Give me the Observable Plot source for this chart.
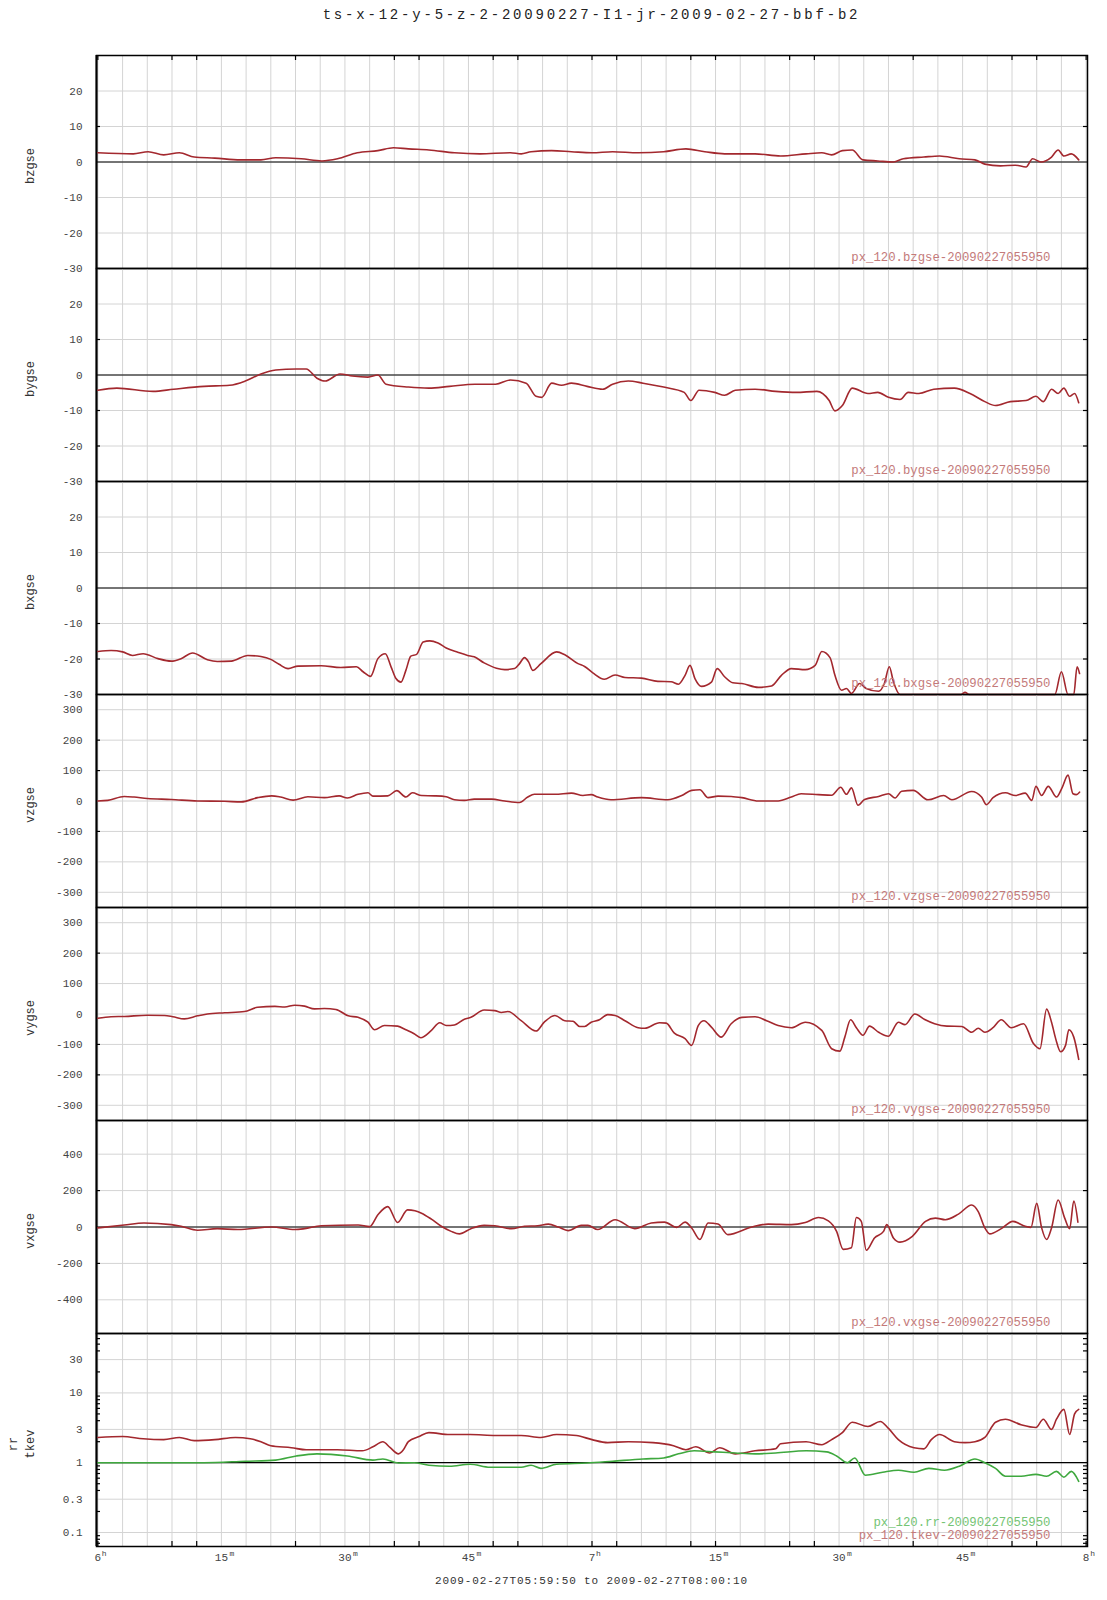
<!DOCTYPE html>
<html><head><meta charset="utf-8">
<script src="https://cdn.jsdelivr.net/npm/d3@7"></script>
<script src="https://cdn.jsdelivr.net/npm/@observablehq/plot@0.6"></script>
<style>
body{margin:0;background:#fff;}
#wrap{position:relative;width:1107px;height:1600px;font-family:"Liberation Mono",monospace;overflow:hidden;}
#title{position:absolute;top:7px;left:96px;width:991px;text-align:center;font-size:14px;letter-spacing:2.8px;color:#222;white-space:nowrap;}
#sub{position:absolute;top:1575px;left:96px;width:991px;text-align:center;font-size:11px;letter-spacing:0.85px;color:#333;white-space:nowrap;}
.panel{position:absolute;left:0;}
</style></head><body>
<div id="wrap">
<div id="title">ts-x-12-y-5-z-2-20090227-I1-jr-2009-02-27-bbf-b2</div>
<div id="sub">2009-02-27T05:59:50 to 2009-02-27T08:00:10</div>
</div>
<script>
// ---- data: [minutes after 06:00, value] ----
const bzgse = [[0,2.6],[4.3,2.3],[6.1,2.9],[8.0,2.0],[9.9,2.6],[11.7,1.4],[14.2,1.1],[17.3,0.6],[19.8,0.6],[21.6,1.2],[24.7,0.9],[27.2,0.3],[29.1,0.9],[31.5,2.6],[34.0,3.2],[35.9,4.0],[37.7,3.7],[40.2,3.4],[43.3,2.6],[46.4,2.3],[50.1,2.6],[51.4,2.3],[52.6,2.9],[55.1,3.2],[57.5,2.9],[60.0,2.6],[62.5,2.9],[65.6,2.6],[68.7,2.9],[71.4,3.7],[73.7,2.9],[76.1,2.3],[79.8,2.3],[82.9,1.7],[86.0,2.3],[87.9,2.6],[89.1,2.0],[90.4,3.2],[91.6,3.4],[92.9,0.6],[94.7,0.3],[96.6,0.0],[97.8,0.9],[100.3,1.4],[102.2,1.7],[104.6,0.9],[106.5,0.6],[107.7,-0.6],[109.6,-1.1],[111.4,-0.9],[112.7,-1.4],[113.5,0.9],[114.5,0.0],[115.8,1.4],[116.6,3.4],[117.3,1.7],[118.2,2.3],[119.1,0.6]];

const bygse = [[0,-4.3],[2.3,-3.7],[6.7,-4.6],[9.2,-4.0],[12.9,-3.2],[16.0,-2.9],[17.9,-1.7],[19.8,0.3],[21.6,1.4],[24.1,1.7],[25.3,1.7],[26.6,-0.9],[27.6,-1.7],[29.4,0.3],[30.9,-0.3],[32.8,-0.6],[34.0,0],[35.0,-2.6],[37.7,-3.4],[40.2,-3.7],[42.7,-3.2],[45.8,-2.6],[48.3,-2.6],[50.1,-1.4],[52.0,-2.3],[53.2,-6.0],[53.9,-6.3],[55.1,-2.3],[56.3,-2.9],[57.5,-2.3],[59.4,-3.2],[61.3,-4.0],[62.5,-2.6],[64.4,-1.7],[66.2,-2.3],[68.7,-3.4],[71.2,-4.9],[72.0,-7.2],[73.0,-4.3],[74.9,-4.9],[76.1,-5.7],[77.4,-4.3],[79.8,-4.0],[82.3,-4.6],[84.8,-4.9],[87.3,-4.6],[88.8,-7.2],[89.5,-10.1],[90.4,-8.6],[91.6,-3.7],[93.5,-5.2],[94.7,-4.9],[96.0,-6.3],[97.4,-6.9],[98.4,-4.9],[99.7,-5.2],[101.5,-4.0],[104.0,-3.7],[105.9,-5.2],[107.7,-7.5],[109.0,-8.6],[110.8,-7.5],[112.7,-7.2],[113.9,-6.0],[114.8,-7.5],[115.8,-4.0],[116.6,-5.2],[117.3,-3.7],[118.0,-6.0],[118.6,-5.2],[119.1,-7.8]];

const bxgse = [[0,-17.9],[1.6,-17.6],[3,-18.0],[4.2,-19.0],[5.5,-18.5],[7.3,-19.9],[8.9,-20.6],[10.1,-19.9],[11.5,-18.3],[13.3,-20.2],[14.5,-20.7],[16.2,-20.6],[18.2,-19.0],[19.8,-19.3],[21.0,-20.1],[22.0,-21.5],[23.1,-22.7],[24.3,-22.0],[27.1,-21.9],[29.5,-22.4],[31.4,-22.2],[32.2,-23.6],[33.1,-24.9],[34.0,-19.9],[34.9,-18.5],[35.6,-22.2],[36.2,-25.5],[36.8,-26.5],[37.4,-23.2],[38.0,-19.2],[38.7,-18.7],[39.5,-15.2],[40.3,-14.9],[41.3,-15.5],[42.3,-16.9],[43.7,-18.1],[44.9,-19.0],[45.7,-19.4],[46.9,-21.1],[48.4,-22.6],[49.4,-23.0],[50.6,-22.7],[51.2,-21.3],[51.8,-19.6],[52.3,-20.8],[52.8,-23.2],[53.8,-21.3],[55.7,-18.0],[56.7,-18.8],[58.3,-21.3],[59.1,-22.1],[60.1,-23.9],[61.5,-25.7],[62.8,-24.5],[64.0,-25.2],[66.0,-25.4],[68.0,-26.3],[69.6,-26.4],[70.5,-27.1],[71.3,-24.6],[71.9,-21.8],[72.5,-25.5],[73.3,-27.7],[74.5,-26.5],[75.2,-22.7],[76.1,-25.0],[77.1,-26.7],[78.2,-26.9],[80.2,-28.0],[81.8,-27.6],[83.0,-24.6],[84.2,-22.7],[85.9,-23.0],[87.1,-21.8],[87.9,-17.9],[88.9,-19.6],[89.5,-24.6],[90.3,-28.8],[90.9,-28.3],[91.5,-29.7],[92.5,-26.9],[93.3,-28.3],[94.8,-29.1],[95.5,-26.9],[96.1,-22.2],[96.6,-26.4],[97.4,-30],[100,-30],[104.8,-30],[105.3,-29.4],[105.8,-30],[110,-30],[116.2,-30],[117.0,-23.6],[117.8,-30],[118.5,-30],[118.9,-22.2],[119.2,-24.1]];

const vzgse = [[0,0],[1.2,2],[3.2,15],[4.4,13],[6.0,8],[8.9,5],[12.1,0],[15.4,-1],[17.4,-3],[19.4,11],[21.1,17],[22.2,13],[23.7,3],[25.5,14],[27.5,11],[29.3,17],[30.3,10],[31.6,22],[32.8,27],[33.4,16],[35.2,17],[36.3,34],[37.4,13],[38.2,27],[39.3,18],[40.9,17],[42.3,14],[43.3,4],[44.5,2],[45.7,6],[47.8,6],[49.4,0],[51.2,-5],[52.2,13],[53.0,22],[55.5,22],[57.5,26],[58.9,18],[59.9,21],[60.7,13],[62.3,4],[66.0,11],[69.2,4],[70.9,18],[72.1,35],[73.1,37],[74.1,11],[75.3,16],[76.9,15],[78.2,11],[80.2,0],[82.6,0],[84.2,13],[85.4,24],[87.5,21],[89.1,19],[90.2,45],[90.9,22],[91.5,43],[92.3,-14],[93.1,5],[94.8,15],[96.0,24],[96.8,10],[97.6,32],[99.0,35],[100.8,4],[102.7,18],[103.7,4],[106.1,31],[107.3,13],[107.9,-12],[108.7,11],[110.2,27],[111.4,18],[112.6,26],[113.4,2],[113.9,48],[114.6,18],[115.4,48],[116.4,13],[117.1,45],[117.8,85],[118.4,24],[118.8,21],[119.2,29]];

const vygse = [[0,-14],[1.6,-9],[3.2,-8],[6.0,-4],[8.1,-5],[9.1,-9],[10.5,-16],[12.1,-6],[13.3,0],[15.4,4],[17.8,8],[19.4,22],[21.5,25],[22.7,23],[23.9,29],[25.1,26],[26.3,17],[27.5,18],[28.9,15],[30.4,-6],[31.6,-11],[32.8,-27],[33.6,-52],[34.8,-38],[36.4,-40],[37.4,-52],[38.4,-65],[39.2,-78],[40.5,-54],[41.5,-29],[42.3,-38],[43.3,-36],[44.5,-17],[45.3,-11],[46.9,13],[48.2,11],[49.0,5],[49.8,8],[51.4,-22],[53.2,-56],[54.2,-27],[55.5,-5],[56.7,-22],[57.7,-24],[58.5,-41],[59.1,-41],[59.9,-27],[60.9,-19],[61.9,-2],[62.8,-5],[64.0,-22],[65.6,-45],[66.4,-47],[68.2,-29],[69.0,-30],[70.0,-63],[71.3,-81],[72.1,-103],[72.9,-38],[73.6,-22],[74.5,-43],[75.7,-76],[76.9,-32],[78.2,-11],[79.8,-9],[81.2,-22],[82.6,-38],[84.2,-45],[85.9,-27],[87.9,-54],[89.1,-114],[90.1,-122],[90.7,-76],[91.4,-19],[92.1,-45],[92.9,-70],[93.7,-40],[94.8,-60],[96.0,-73],[97.2,-27],[98.0,-35],[99.2,0],[100.4,-18],[101.6,-32],[103.1,-40],[104.9,-41],[106.1,-60],[106.9,-47],[107.7,-60],[108.7,-45],[109.7,-19],[110.9,-45],[112.4,-32],[113.6,-97],[114.4,-114],[115.2,16],[115.8,-27],[116.3,-81],[116.9,-124],[117.5,-103],[117.9,-52],[118.5,-76],[119.1,-149]];

const vxgse = [[0,-5],[3.2,11],[5.6,22],[8.9,13],[10.1,4],[12.1,-18],[14.5,-9],[17.0,-14],[21.1,0],[23.9,-14],[25.1,-9],[27.1,7],[31.6,11],[33.0,2],[34.0,67],[35.2,112],[36.4,25],[37.6,94],[38.5,89],[39.3,76],[40.5,43],[41.7,4],[42.9,-24],[43.9,-38],[45.3,-9],[46.9,9],[48.2,7],[50.2,-9],[51.8,4],[53.4,7],[54.7,16],[55.9,0],[57.1,-20],[58.7,9],[59.5,9],[60.7,-14],[62.8,40],[65.2,-9],[67.2,22],[68.8,27],[70.3,-2],[71.3,27],[72.1,-5],[73.1,-69],[74.1,22],[75.3,16],[76.5,-42],[79.4,0],[81.4,16],[84.2,13],[85.9,25],[87.5,52],[88.7,34],[89.7,-24],[90.5,-123],[91.5,-114],[92.1,52],[92.7,31],[93.3,-128],[94.3,-60],[95.4,-24],[95.8,13],[96.6,-60],[97.4,-83],[98.9,-51],[100.5,31],[101.7,49],[102.9,40],[104.5,71],[106.1,121],[106.9,85],[107.7,-5],[108.3,-38],[109.7,-9],[111.1,31],[112.6,4],[113.3,-2],[114.0,130],[114.6,-5],[115.2,-69],[115.8,-5],[116.6,148],[117.4,49],[118.0,-9],[118.5,143],[119.0,27]];

const tkev = [[0,2.3],[3.0,2.37],[5.5,2.2],[8.0,2.14],[9.9,2.3],[11.7,2.07],[14.2,2.14],[16.7,2.3],[18.5,2.2],[19.8,2.0],[21.0,1.75],[23.5,1.64],[25.3,1.53],[29.1,1.53],[32.1,1.48],[33.4,1.69],[34.6,2.0],[35.5,1.64],[36.5,1.34],[37.1,1.53],[37.7,2.0],[39.0,2.37],[40.2,2.7],[42.7,2.53],[45.2,2.53],[48.3,2.45],[51.4,2.45],[53.8,2.3],[55.7,2.53],[58.1,2.45],[60.0,2.14],[61.9,1.94],[64.4,2.0],[67.4,1.94],[69.9,1.75],[71.4,1.53],[72.6,1.69],[74.3,1.38],[75.5,1.64],[77.4,1.34],[79.8,1.48],[82.3,1.58],[82.9,1.87],[86.0,2.0],[87.9,1.81],[89.1,2.14],[90.4,2.7],[91.6,3.8],[93.5,3.3],[95.0,3.9],[96.0,3.1],[97.2,2.14],[99.1,1.64],[100.3,1.58],[101.2,2.14],[102.2,2.53],[104.0,2.0],[105.3,1.94],[106.5,2.0],[107.7,2.3],[109.0,3.8],[110.2,4.2],[112.1,3.5],[113.9,3.2],[114.8,4.2],[115.8,3.0],[116.4,4.2],[117.3,5.8],[118.0,2.53],[118.6,5.0],[119.1,5.8]];

const rr = [[0,1.0],[12.9,1.0],[17.9,1.05],[21.6,1.09],[24.1,1.25],[26.6,1.34],[30.3,1.25],[33.4,1.09],[34.6,1.13],[36.5,0.99],[38.4,1.0],[40.2,0.92],[42.7,0.89],[45.2,0.95],[47.6,0.86],[51.4,0.86],[52.6,0.92],[53.8,0.83],[55.7,0.95],[59.4,0.99],[62.5,1.05],[66.2,1.13],[68.7,1.17],[70.5,1.34],[72.4,1.48],[74.9,1.43],[77.4,1.38],[79.8,1.34],[82.3,1.38],[86.0,1.48],[88.5,1.43],[89.7,1.25],[91.0,1.0],[91.9,1.17],[93.2,0.66],[95.3,0.73],[97.2,0.78],[99.1,0.73],[100.9,0.83],[102.8,0.78],[104.6,0.89],[106.5,1.13],[107.7,1.0],[109.0,0.83],[110.2,0.64],[112.1,0.64],[113.9,0.68],[115.2,0.64],[116.4,0.75],[117.3,0.62],[118.2,0.75],[119.1,0.54]];

// ---- axes / ticks ----
const bTicks = [20, 10, 0, -10, -20, -30];
const vTicks = [300, 200, 100, 0, -100, -200, -300];
const vxTicks = [400, 200, 0, -200, -400];
const logTicks = [30, 10, 3, 1, 0.3, 0.1];
const logMinor = [0.07,0.08,0.09,0.2,0.4,0.5,0.6,0.7,0.8,0.9,2,4,5,6,7,8,9,20,40,50,60];
const gridMin = d3.range(0, 121, 3);
const frameTickMin = [0,9,12,24,36,39,48,51,60,63,72,75,84,87,99,111,114,120];
const xLabelMin = [0,15,30,45,60,75,90,105,120];
const xLabelNum = ["6","15","30","45","7","15","30","45","8"];
const xLabelSup = ["h","m","m","m","h","m","m","m","h"];

const RED = "#a3282e", GREEN = "#3ea83e", NOTE_RED = "#c47a7a", NOTE_GREEN = "#74c474";
const W = 1107, ML = 96, MR = 20, PH = 213, TOP = 55, PW = W - ML - MR;

const panels = [
  {labels:["bzgse"], series:[{data:bzgse, color:RED}], domain:[-30,30], ticks:bTicks, zero:0, side:[10,-30],
   notes:[{text:"px_120.bzgse-20090227055950", color:NOTE_RED, dy:-8}]},
  {labels:["bygse"], series:[{data:bygse, color:RED}], domain:[-30,30], ticks:bTicks, zero:0, side:[10,-10,-20],
   notes:[{text:"px_120.bygse-20090227055950", color:NOTE_RED, dy:-8}]},
  {labels:["bxgse"], series:[{data:bxgse, color:RED}], domain:[-30,30], ticks:bTicks, zero:0, side:[-10,-20],
   notes:[{text:"px_120.bxgse-20090227055950", color:NOTE_RED, dy:-8}]},
  {labels:["vzgse"], series:[{data:vzgse, color:RED}], domain:[-350,350], ticks:vTicks, zero:null, side:[200,100,-100],
   notes:[{text:"px_120.vzgse-20090227055950", color:NOTE_RED, dy:-8}]},
  {labels:["vygse"], series:[{data:vygse, color:RED}], domain:[-350,350], ticks:vTicks, zero:null, side:[200,-100,-200],
   notes:[{text:"px_120.vygse-20090227055950", color:NOTE_RED, dy:-8}]},
  {labels:["vxgse"], series:[{data:vxgse, color:RED}], domain:[-585,585], ticks:vxTicks, zero:0, side:[200,-200],
   notes:[{text:"px_120.vxgse-20090227055950", color:NOTE_RED, dy:-8}]},
  {labels:["rr","tkev"], series:[{data:tkev, color:RED},{data:rr, color:GREEN}], domain:[0.063,71], type:"log", ticks:logTicks, zero:1, side:logMinor,
   notes:[{text:"px_120.rr-20090227055950", color:NOTE_GREEN, dy:-21},{text:"px_120.tkev-20090227055950", color:NOTE_RED, dy:-8}]}
];

const wrap = document.getElementById("wrap");
panels.forEach((p, i) => {
  const first = i === 0, last = i === panels.length - 1;
  const mb = last ? 32 : 0;
  const marks = [
    Plot.ruleX(gridMin, {x: d => d, stroke: "#d4d4d4", strokeWidth: 1}),
    Plot.ruleY(p.ticks, {y: d => d, stroke: "#d4d4d4", strokeWidth: 1}),
    Plot.frame({stroke: "black", strokeWidth: 1.5}),
    Plot.ruleX([xLabelMin[0]], {x: () => -1/6, stroke: "black", strokeWidth: 2}),
  ];
  if (p.zero != null) marks.push(Plot.ruleY([p.zero], {y: d => d, stroke: "black", strokeWidth: 1.2}));
  // inward side ticks
  marks.push(Plot.tickY(p.side, {y: d => d, insetRight: PW - 4, stroke: "black", strokeWidth: 1.2}));
  marks.push(Plot.tickY(p.side, {y: d => d, insetLeft: PW - 4, stroke: "black", strokeWidth: 1.2}));
  if (first) marks.push(Plot.tickX(frameTickMin, {x: d => d, insetBottom: PH - 5, stroke: "black", strokeWidth: 1.2}));
  if (last) marks.push(Plot.tickX(frameTickMin, {x: d => d, insetTop: PH - 5, stroke: "black", strokeWidth: 1.2}));
  // data lines
  p.series.forEach(s => {
    marks.push(Plot.line(s.data, {x: d => d[0], y: d => d[1], stroke: s.color, strokeWidth: 1.6, curve: "monotone-x"}));
  });
  // y tick labels
  marks.push(Plot.axisY({ticks: p.ticks, tickSize: 0, tickPadding: 14, tickFormat: d => String(d), fontSize: 11, fill: "#444", label: null}));
  // y labels
  p.labels.forEach((lab, j) => {
    const dx = p.labels.length === 2 ? (j === 0 ? -83 : -66) : -66;
    marks.push(Plot.text([lab], {text: d => d, frameAnchor: "left", textAnchor: "middle", dx, dy: 4, rotate: -90, fontSize: 12, fill: "#333"}));
  });
  // annotations
  p.notes.forEach(n => {
    marks.push(Plot.text([n.text], {text: d => d, frameAnchor: "bottom-right", textAnchor: "end", lineAnchor: "bottom", dx: -37, dy: n.dy, fontSize: 12.3, fill: n.color}));
  });
  if (last) {
    const xl = xLabelMin.map((m, k) => ({m, num: xLabelNum[k], sup: xLabelSup[k]}));
    marks.push(Plot.text(xl, {x: "m", text: "num", frameAnchor: "bottom", dy: 14, fontSize: 11, fill: "#444"}));
    marks.push(Plot.text(xl.filter(d => d.num.length === 1), {x: "m", text: "sup", frameAnchor: "bottom", textAnchor: "start", dx: 4, dy: 9, fontSize: 8, fill: "#444"}));
    marks.push(Plot.text(xl.filter(d => d.num.length === 2), {x: "m", text: "sup", frameAnchor: "bottom", textAnchor: "start", dx: 8, dy: 9, fontSize: 8, fill: "#444"}));
  }
  const chart = Plot.plot({
    width: W, height: PH + mb,
    marginLeft: ML, marginRight: MR, marginTop: 0, marginBottom: mb,
    x: {type: "linear", domain: [-1/6, 120 + 1/6], axis: null},
    y: {type: p.type || "linear", domain: p.domain},
    style: {background: "transparent", overflow: "visible", fontFamily: "'Liberation Mono', monospace"},
    marks
  });
  const div = document.createElement("div");
  div.className = "panel";
  div.style.top = (TOP + i * PH) + "px";
  div.appendChild(chart);
  wrap.appendChild(div);
});
</script>
</body></html>
